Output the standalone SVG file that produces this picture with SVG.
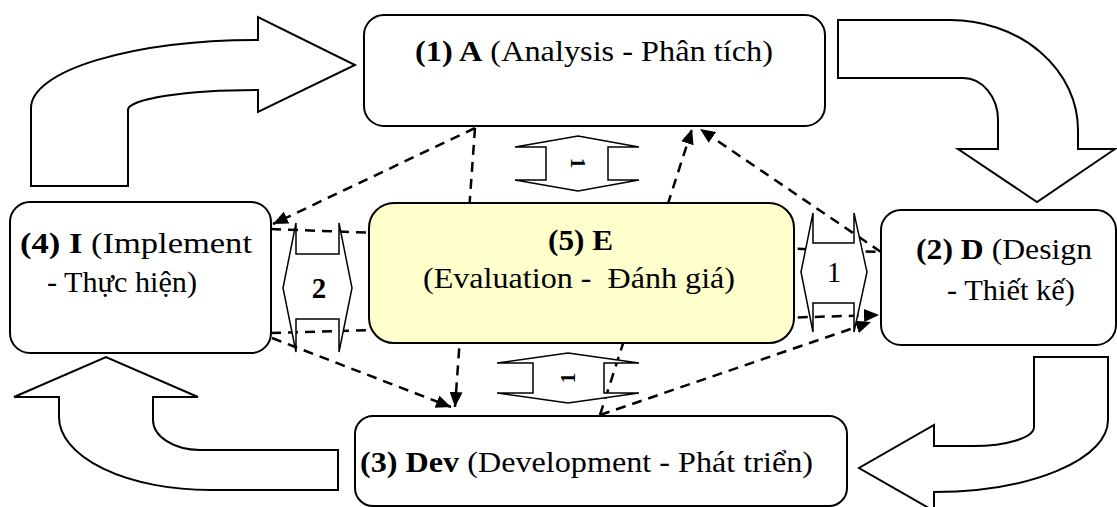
<svg xmlns="http://www.w3.org/2000/svg" width="1117" height="507" viewBox="0 0 1117 507">
  <style>
    .box { fill: #ffffff; stroke: #000000; stroke-width: 2; }
    .eval { fill: #ffffcc; stroke: #000000; stroke-width: 2; }
    .block { fill: #ffffff; stroke: #000000; stroke-width: 2; stroke-linejoin: miter; }
    .dbl { fill: #ffffff; stroke: #000000; stroke-width: 1.5; }
    .dash { fill: none; stroke: #000000; stroke-width: 2.5; stroke-dasharray: 10 7; }
    .lbl { font-family: 'Liberation Serif', 'Times New Roman', serif; font-size: 29px; fill: #000000; }
    .b { font-weight: bold; }
  </style>
  <defs>
    <marker id="tip" markerUnits="userSpaceOnUse" markerWidth="15" markerHeight="13" refX="15" refY="6.5" orient="auto">
      <path d="M0,0 L15,6.5 L0,13 Z" fill="#000000"/>
    </marker>
  </defs>

  <!-- big cycle arrows -->
  <g id="cycle-arrows">
    <path class="block" d="M31,186 L31,108 A227,68 0 0 1 258,40 L258,17 L355,65 L258,112 L258,90 A130,20 0 0 0 128,110 L128,186 Z"/>
    <path class="block" d="M838,20 L950,20 A128,110 0 0 1 1078,130 L1078,149 L1115,149 L1037,202 L958,149 L998,149 L998,120 A35,42 0 0 0 963,78 L838,78 Z"/>
    <path class="block" d="M1034,357 L1108,357 L1108,420 A174,72 0 0 1 934,492 L934,511 L859,468 L934,425 L934,446 L973,446 A61,19 0 0 0 1034,427 Z"/>
    <path class="block" d="M338,450 L338,490 L210,490 A151,73 0 0 1 59,417 L59,397 L14,397 L106,357 L198,397 L153,397 L153,420 A47,30 0 0 0 200,450 Z"/>
  </g>

  <!-- evaluation feedback connectors -->
  <g id="connectors">
    <line class="dash" x1="475" y1="128" x2="273" y2="224" marker-end="url(#tip)"/>
    <line class="dash" x1="475" y1="128" x2="455" y2="407" marker-end="url(#tip)"/>
    <line class="dash" x1="600" y1="415" x2="692" y2="129" marker-end="url(#tip)"/>
    <line class="dash" x1="881" y1="252" x2="700" y2="129" marker-end="url(#tip)"/>
    <line class="dash" x1="600" y1="415" x2="871" y2="322" marker-end="url(#tip)"/>
    <line class="dash" x1="271" y1="229" x2="881" y2="252"/>
    <line class="dash" x1="271" y1="333" x2="879" y2="315" marker-end="url(#tip)"/>
    <line class="dash" x1="272" y1="338" x2="451" y2="407" marker-end="url(#tip)"/>
  </g>

  <!-- two-way arrows around the evaluation step -->
  <g id="link-ie">
    <polygon class="dbl" points="283,288 296,223 296,254 339,254 339,223 352,288 339,352 339,319 296,319 296,352"/>
    <text class="lbl b" x="319" y="298" text-anchor="middle">2</text>
  </g>
  <g id="link-ed">
    <polygon class="dbl" points="801,272 813,213 813,243 854,243 854,213 867,272 854,332 854,303 813,303 813,332"/>
    <text class="lbl" x="834" y="282" text-anchor="middle">1</text>
  </g>
  <g id="link-ae">
    <polygon class="dbl" points="578,136 639,147 608,147 608,180 639,180 578,191 515,180 546,180 546,147 515,147"/>
    <text class="lbl b" style="font-size:21px" x="0" y="0" text-anchor="middle" transform="translate(571,163) rotate(90)">1</text>
  </g>
  <g id="link-edev">
    <polygon class="dbl" points="568,353 639,363 604,363 604,393 639,393 568,403 497,393 533,393 533,363 497,363"/>
    <text class="lbl b" style="font-size:21px" x="0" y="0" text-anchor="middle" transform="translate(575,378) rotate(-90)">1</text>
  </g>

  <!-- process steps -->
  <g id="node-analysis">
    <rect class="box" x="364" y="15" width="461" height="111" rx="20"/>
    <text class="lbl" x="415" y="61" textLength="358" lengthAdjust="spacingAndGlyphs"><tspan class="b">(1) A</tspan> (Analysis - Phân tích)</text>
  </g>
  <g id="node-implement">
    <rect class="box" x="10" y="202" width="261" height="151" rx="20"/>
    <text class="lbl" x="20" y="253" textLength="232" lengthAdjust="spacingAndGlyphs"><tspan class="b">(4) I</tspan> (Implement</text>
    <text class="lbl" x="47" y="292" textLength="150" lengthAdjust="spacingAndGlyphs">- Thực hiện)</text>
  </g>
  <g id="node-design">
    <rect class="box" x="881" y="210" width="235" height="135" rx="20"/>
    <text class="lbl" x="916" y="259" textLength="176" lengthAdjust="spacingAndGlyphs"><tspan class="b">(2) D</tspan> (Design</text>
    <text class="lbl" x="947" y="300" textLength="128" lengthAdjust="spacingAndGlyphs">- Thiết kế)</text>
  </g>
  <g id="node-development">
    <rect class="box" x="355" y="416" width="492" height="90" rx="18"/>
    <text class="lbl" x="360" y="472" textLength="453" lengthAdjust="spacingAndGlyphs"><tspan class="b">(3) Dev</tspan> (Development - Phát triển)</text>
  </g>
  <g id="node-evaluation">
    <rect class="eval" x="369" y="203" width="425" height="140" rx="25"/>
    <text class="lbl b" x="548" y="250" textLength="65" lengthAdjust="spacingAndGlyphs">(5) E</text>
    <text class="lbl" x="423" y="288" textLength="312" lengthAdjust="spacingAndGlyphs" style="white-space:pre">(Evaluation -  Đánh giá)</text>
  </g>
</svg>
